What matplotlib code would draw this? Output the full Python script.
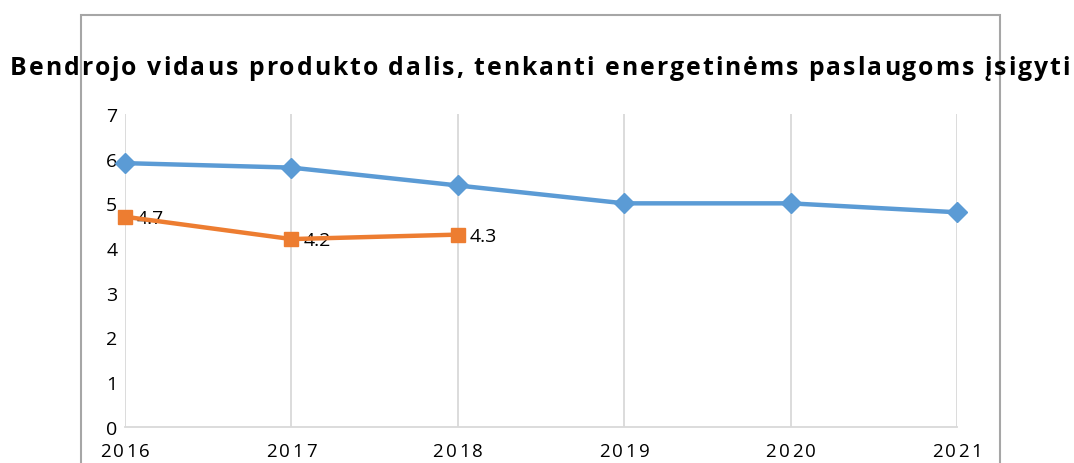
import matplotlib
matplotlib.use('Agg')
import matplotlib.pyplot as plt
from matplotlib.font_manager import FontProperties
from matplotlib.transforms import offset_copy
from matplotlib.patches import Rectangle

# data
years = [2016, 2017, 2018, 2019, 2020, 2021]
gdp_share = [5.9, 5.8, 5.4, 5.0, 5.0, 4.8]
years_actual = [2016, 2017, 2018]
gdp_share_actual = [4.7, 4.2, 4.3]
y_ticks = [0, 1, 2, 3, 4, 5, 6, 7]
title = 'Bendrojo vidaus produkto dalis, tenkanti energetinėms paslaugoms įsigyti'

W, H = 1074, 464
fig = plt.figure(figsize=(W / 100, H / 100), dpi=100)
ax = fig.add_axes([125 / W, 1 - 427.7 / H, 832 / W, 312.7 / H])
renderer = fig.canvas.get_renderer()

blue = '#5b9bd5'
orange = '#ed7d31'
grid_c = '#d9d9d9'


def char_widths(s, fp):
    base = renderer.get_text_width_height_descent('||', fp, ismath=False)[0]
    return [renderer.get_text_width_height_descent('|' + c + '|', fp, ismath=False)[0] - base
            for c in s]


def spaced_text(x, y, s, trans, fp, gap=0.0, width=None, ha='center', dy=0.0, **kw):
    # letter-spaced text, one character at a time
    w = char_widths(s, fp)
    if width is not None:
        gap = (width - sum(w)) / (len(s) - 1)
    total = sum(w) + gap * (len(s) - 1)
    pos = {'left': 0, 'center': -total / 2, 'right': -total}[ha]
    for c, cw in zip(s, w):
        t = offset_copy(trans, fig=fig, x=pos, y=dy, units='dots')
        fig.text(x, y, c, transform=t, fontproperties=fp, ha='left', va='baseline', **kw)
        pos += cw + gap


# outer chart frame (runs off the bottom of the picture)
fig.patches.append(Rectangle((81 / W, -0.2), (1000 - 81) / W, 1.2 - 15.5 / H,
                             transform=fig.transFigure, fill=False,
                             edgecolor='#a6a6a6', lw=1.5, zorder=0))

ax.plot(years, gdp_share, color=blue, lw=3.2, marker='D', ms=10, zorder=3, clip_on=False)
ax.plot(years_actual, gdp_share_actual, color=orange, lw=3.2, marker='s', ms=9.5,
        zorder=4, clip_on=False)
for x, v in zip(years_actual, gdp_share_actual):
    ax.annotate(f'{v}', (x, v), xytext=(8.5, -1), textcoords='offset points',
                ha='left', va='center', fontsize=14, family='Open Sans', color='black')

ax.set_xlim(2016, 2021)
ax.set_ylim(0, 7)
ax.set_facecolor('none')
for s in ['left', 'right', 'top']:
    ax.spines[s].set_visible(False)
ax.spines['bottom'].set_color(grid_c)
ax.spines['bottom'].set_linewidth(1.3)
ax.set_xticks(years)
ax.grid(axis='x', color=grid_c, lw=1.3)
ax.tick_params(axis='x', length=0, labelbottom=False)
ax.set_yticks(y_ticks)
ax.set_yticklabels([str(v) for v in y_ticks], family='Open Sans', fontsize=14)
ax.tick_params(axis='y', length=0, pad=5.5)

# letter-spaced year labels under the axis
tick_fp = FontProperties(family='Open Sans', size=13.5)
for yr in years:
    spaced_text(yr, 0, str(yr), ax.get_xaxis_transform(), tick_fp, gap=2.5, dy=-29)

title_fp = FontProperties(family='Open Sans', weight='bold', size=17.8)
spaced_text(540 / W, 1 - 75 / H, title, fig.transFigure, title_fp, width=1060, zorder=5)

fig.savefig('out.png', dpi=100)
